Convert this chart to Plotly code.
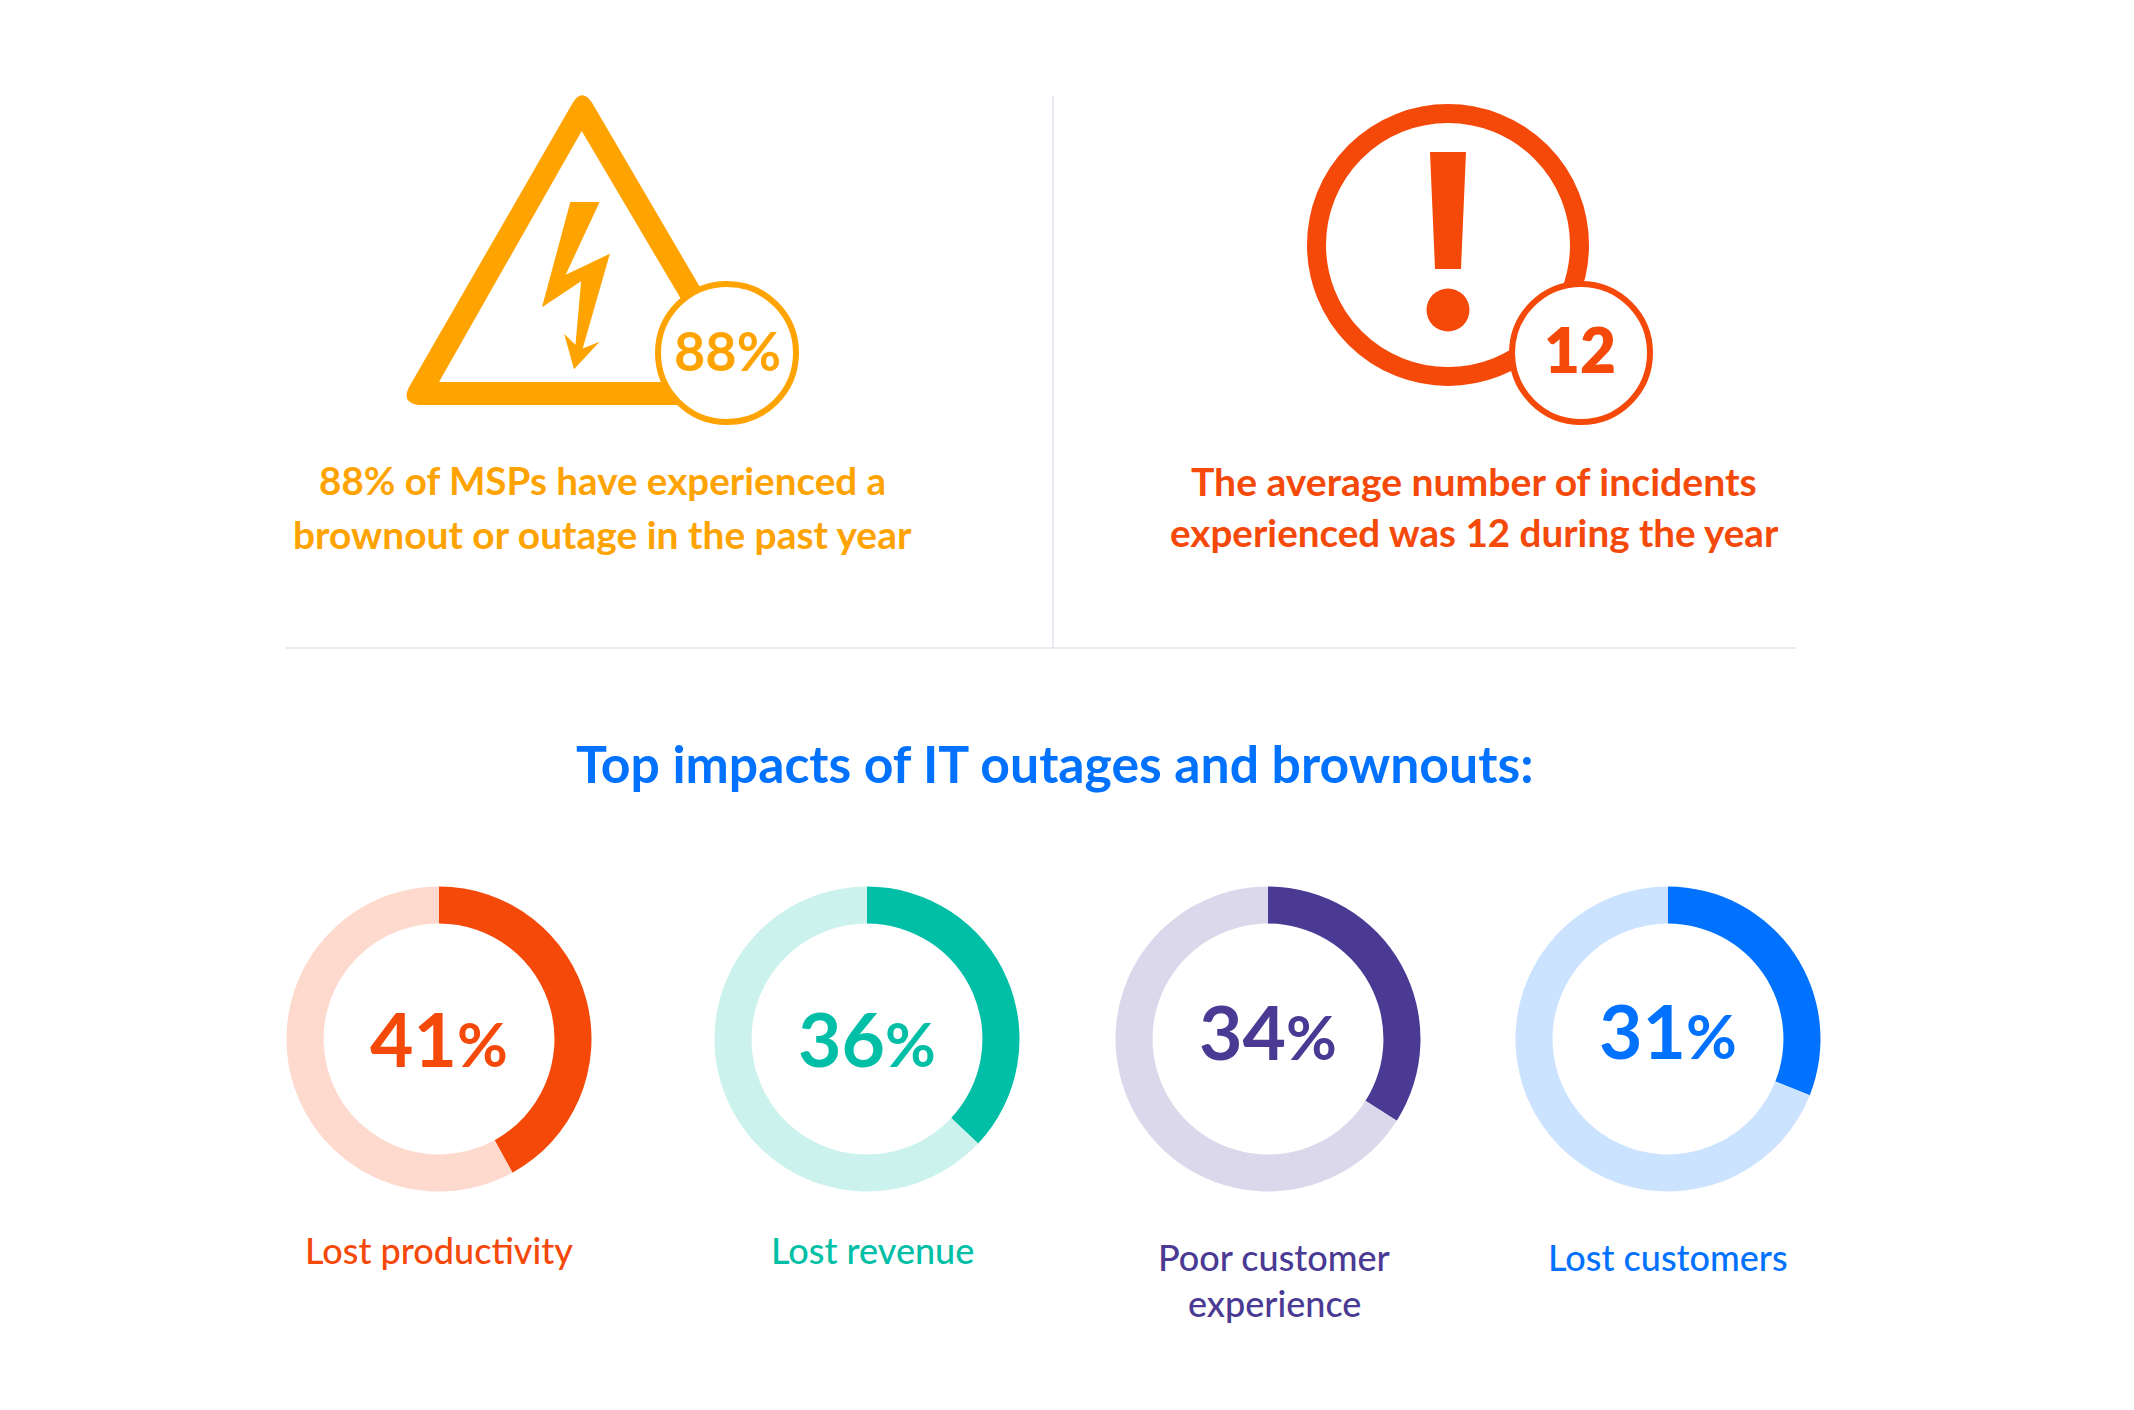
import plotly.graph_objects as go

W, H = 2134, 1410
FONT = "Lato"

# donut data
labels = ["Lost productivity", "Lost revenue", "Poor customer<br>experience", "Lost customers"]
percent = [41, 36, 34, 31]
arc_values = [42, 37, 34, 31]  # arcs in the picture run a bit past the printed 41 and 36
colors = ["#F5490A", "#00BFA6", "#4A3A94", "#0072FF"]
light_colors = ["#FDD9CE", "#CCF2ED", "#DBD8EB", "#CCE3FF"]
donut_x = [431, 859, 1260, 1660]
donut_y = 1031
donut_r = 152.5
pct_x = [431, 859, 1260, 1660]
pct_y = [1030, 1030, 1023, 1022]
label_x = [431, 864, 1266, 1660]
label_y = [1242, 1242, 1249, 1249]

# headline figures
orange = "#FFA300"
red = "#F5490A"
blue = "#0072FF"
brownout_pct = "88%"
incidents = "12"


def px(x):
    return x / W


def py(y):
    return 1 - y / H


def svg_path(cmds, dx=0, dy=0):
    out = []
    for c in cmds:
        if c == "Z":
            out.append("Z")
        else:
            nums = c[1:]
            pts = [f"{px(nums[i] + dx):.5f},{py(nums[i + 1] + dy):.5f}" for i in range(0, len(nums), 2)]
            out.append(c[0] + " " + " ".join(pts))
    return " ".join(out)


def shape_path(cmds, color, dx=0, dy=0):
    return dict(type="path", xref="paper", yref="paper", path=svg_path(cmds, dx, dy),
                fillcolor=color, line=dict(width=0), layer="above")


def circle(cx, cy, r, line_color, line_width, fill="rgba(0,0,0,0)"):
    return dict(type="circle", xref="paper", yref="paper",
                x0=px(cx - r), x1=px(cx + r), y0=py(cy + r), y1=py(cy - r),
                fillcolor=fill, line=dict(color=line_color, width=line_width), layer="above")


def hline(x0, y0, x1, y1):
    return dict(type="line", xref="paper", yref="paper", x0=px(x0), x1=px(x1), y0=py(y0), y1=py(y1),
                line=dict(color="#E1E3EE", width=1.5), layer="below")


def text(x, y, s, size, color, weight=500):
    return dict(x=px(x), y=py(y), xref="paper", yref="paper", text=s, showarrow=False,
                xanchor="center", yanchor="middle",
                font=dict(family=FONT, size=size, color=color, weight=weight))


fig = go.Figure()

for i in range(len(percent)):
    fig.add_trace(go.Pie(
        values=[arc_values[i], 100 - arc_values[i]],
        marker=dict(colors=[colors[i], light_colors[i]], line=dict(width=0)),
        hole=0.757,
        sort=False,
        direction="clockwise",
        rotation=0,
        textinfo="none",
        hoverinfo="skip",
        showlegend=False,
        domain=dict(x=[px(donut_x[i] - donut_r), px(donut_x[i] + donut_r)],
                    y=[py(donut_y + donut_r), py(donut_y - donut_r)]),
    ))

triangle = [("M", 575.9, 102.6), ("Q", 585, 88, 594.9, 102.6), ("L", 772, 405), ("L", 423, 405),
            ("Q", 403, 403, 412.8, 385.7), "Z",
            ("M", 584.7, 131), ("L", 442, 382), ("L", 733, 382), "Z"]
bolt = [("M", 573.3, 202), ("L", 602.6, 202), ("L", 568.7, 274.7), ("L", 612.9, 253.7),
        ("L", 585.7, 348.6), ("L", 602.6, 341.7), ("L", 577, 369.3), ("L", 567.2, 334),
        ("L", 578.5, 344.8), ("L", 584.1, 281.3), ("L", 545, 307.3), "Z"]
bang = [("M", 1436, 152), ("L", 1472, 152), ("L", 1467, 269), ("L", 1441, 269), "Z"]

shapes = [
    hline(1045, 88, 1045, 640),
    hline(278, 640, 1788, 640),
    shape_path(triangle, orange, -11, -8),
    shape_path(bolt, orange, -11, -8),
    circle(719, 345, 69, orange, 6, "white"),
    circle(1440, 237, 131.5, red, 19),
    shape_path(bang, red, -14, -8),
    circle(1440, 302, 21.5, red, 0, red),
    circle(1573, 345, 69, red, 6, "white"),
]

annotations = [
    text(719, 343, brownout_pct, 54, orange, 700),
    text(1572, 341, incidents, 62, red, 800),
    text(594, 472, "88% of MSPs have experienced a", 38.6, orange, 700),
    text(594, 526, "brownout or outage in the past year", 38.9, orange, 700),
    text(1466, 472, "The average number of incidents", 39.1, red, 700),
    text(1466, 524, "experienced was 12 during the year", 38.6, red, 700),
    text(1046, 755, "Top impacts of IT outages and brownouts:", 51.7, blue, 700),
]
for i in range(len(percent)):
    pct_label = f'{percent[i]}<span style="font-size:62px">%</span>'
    annotations.append(text(pct_x[i], pct_y[i], pct_label, 75, colors[i], 700))
    lines = labels[i].split("<br>")
    for j in range(len(lines)):
        annotations.append(text(label_x[i], label_y[i] + j * 46, lines[j], 36, colors[i], 500))

fig.update_layout(
    width=W, height=H,
    margin=dict(l=0, r=0, t=0, b=0),
    paper_bgcolor="white",
    plot_bgcolor="white",
    shapes=shapes,
    annotations=annotations,
)

fig.write_html("out.html")
